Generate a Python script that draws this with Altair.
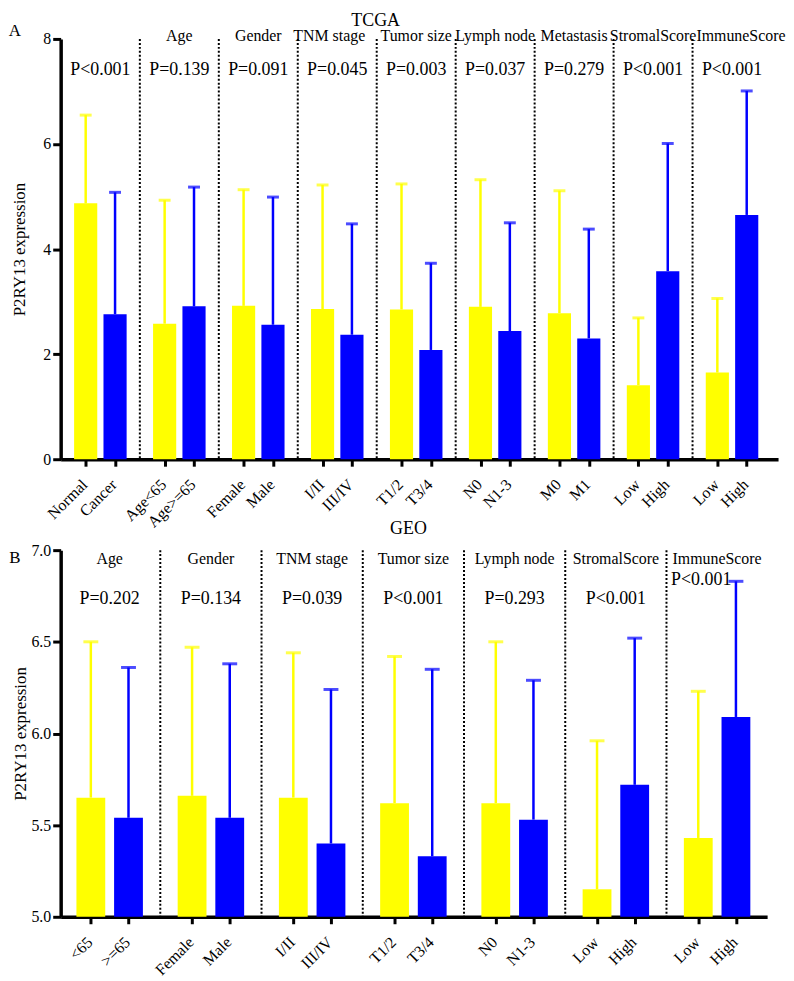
import json
import altair as alt
import pandas as pd

FONT = "Liberation Serif"
YELLOW = "#FFFF00"
BLUE = "#0000FF"
OFF = 0.186  # half distance between the two bars of a pair (in group units)

# ---------------- TCGA data ----------------
tcga_groups = ["", "Age", "Gender", "TNM stage", "Tumor size", "Lymph node",
               "Metastasis", "StromalScore", "ImmuneScore"]
tcga_pvalues = ["P<0.001", "P=0.139", "P=0.091", "P=0.045", "P=0.003",
                "P=0.037", "P=0.279", "P<0.001", "P<0.001"]
tcga_labels = ["Normal", "Cancer", "Age<65", "Age>=65", "Female", "Male",
               "I/II", "III/IV", "T1/2", "T3/4", "N0", "N1-3", "M0", "M1",
               "Low", "High", "Low", "High"]
tcga_mean = [4.87, 2.76, 2.58, 2.91, 2.92, 2.56, 2.86, 2.37, 2.85, 2.08,
             2.90, 2.44, 2.78, 2.30, 1.41, 3.58, 1.65, 4.65]
tcga_upper = [6.55, 5.08, 4.93, 5.18, 5.13, 4.99, 5.22, 4.48, 5.24, 3.73,
              5.32, 4.50, 5.11, 4.38, 2.69, 6.01, 3.06, 7.01]

# ---------------- GEO data ----------------
geo_groups = ["Age", "Gender", "TNM stage", "Tumor size", "Lymph node",
              "StromalScore", "ImmuneScore"]
geo_pvalues = ["P=0.202", "P=0.134", "P=0.039", "P<0.001", "P=0.293",
               "P<0.001", "P<0.001"]
geo_labels = ["<65", ">=65", "Female", "Male", "I/II", "III/IV", "T1/2",
              "T3/4", "N0", "N1-3", "Low", "High", "Low", "High"]
geo_mean = [5.65, 5.54, 5.66, 5.54, 5.65, 5.40, 5.62, 5.33, 5.62, 5.53,
            5.15, 5.72, 5.43, 6.09]
geo_upper = [6.50, 6.36, 6.47, 6.38, 6.44, 6.24, 6.42, 6.35, 6.50, 6.29,
             5.96, 6.52, 6.23, 6.83]


def panel(labels, mean, upper, groups, pvals, ydomain, yticks, yfmt,
          width, height, xdomain, barw, capw, title, letter, title_x, title_y,
          letter_y, grp_y, p_y, ytitle_pad, grp_shift=None, special_p=None):
    n = len(groups)
    grp_shift = grp_shift or {}
    bars = pd.DataFrame({
        "k": list(range(len(labels))),
        "label": labels,
        "mean": mean,
        "upper": upper,
    })
    bars["gi"] = bars["k"] // 2
    bars["side"] = ["first" if k % 2 == 0 else "second" for k in bars["k"]]

    tick_vals = []
    for i in range(n):
        tick_vals += [i - OFF, i + OFF]
    label_expr = ("%s[2*round(datum.value) + (datum.value > round(datum.value) ? 1 : 0)]"
                  % json.dumps(labels))

    X = alt.X("xpos:Q",
              scale=alt.Scale(domain=xdomain, nice=False, zero=False),
              axis=alt.Axis(values=tick_vals, labelExpr=label_expr, title=None,
                            grid=False, labelAngle=-45, labelAlign="right",
                            labelBaseline="top", labelPadding=10, labelOffset=-7,
                            labelOverlap=False, labelFontSize=16, tickSize=7))
    Y = alt.Y("mean:Q",
              scale=alt.Scale(domain=ydomain, nice=False, zero=False),
              axis=alt.Axis(values=yticks, format=yfmt, title="P2RY13 expression",
                            grid=False, titlePadding=ytitle_pad, tickSize=8,
                            labelPadding=2, labelFontSize=16))
    color = alt.Color("side:N",
                      scale=alt.Scale(domain=["first", "second"], range=[YELLOW, BLUE]),
                      legend=None)

    base = alt.Chart(bars).transform_calculate(
        xpos="datum.gi + (datum.side == 'first' ? -%f : %f)" % (OFF, OFF))

    bar_layer = base.mark_bar(width=barw).encode(
        x=X, y=Y, y2=alt.datum(ydomain[0]), color=color)
    err_layer = base.mark_rule(strokeWidth=2.5).encode(
        x=X, y=Y, y2="upper:Q", color=color)
    cap_layer = base.mark_tick(orient="horizontal", size=capw, thickness=3).encode(
        x=X, y=alt.Y("upper:Q", scale=alt.Scale(domain=ydomain, nice=False, zero=False)),
        color=color)

    seps = pd.DataFrame({"b": [i + 0.5 for i in range(n - 1)]})
    sep_layer = alt.Chart(seps).transform_calculate(xpos="datum.b").mark_rule(
        color="black", strokeWidth=2, strokeDash=[2, 2]).encode(
        x=X, y=alt.value(0), y2=alt.value(height))

    gdf = pd.DataFrame({"gi": list(range(n)), "group": groups, "p": pvals})
    gbase = alt.Chart(gdf).transform_calculate(xpos="datum.gi")

    shifted = list(grp_shift.keys())
    grp_layers = []
    if shifted:
        cond = " && ".join("datum.gi != %d" % g for g in shifted)
        grp_layers.append(gbase.transform_filter(cond).mark_text(
            font=FONT, fontSize=16, color="black", baseline="middle").encode(
            x=X, y=alt.value(grp_y), text="group:N"))
        for g, dx in grp_shift.items():
            grp_layers.append(gbase.transform_filter("datum.gi == %d" % g).mark_text(
                font=FONT, fontSize=16, color="black", baseline="middle", dx=dx).encode(
                x=X, y=alt.value(grp_y), text="group:N"))
    else:
        grp_layers.append(gbase.mark_text(
            font=FONT, fontSize=16, color="black", baseline="middle").encode(
            x=X, y=alt.value(grp_y), text="group:N"))

    if special_p is not None:
        pmain = gbase.transform_filter("datum.gi != %d" % special_p[0])
        p_layer = pmain.mark_text(font=FONT, fontSize=18, color="black",
                                  baseline="middle").encode(
            x=X, y=alt.value(p_y), text="p:N")
        psp = gbase.transform_filter("datum.gi == %d" % special_p[0]).mark_text(
            font=FONT, fontSize=18, color="black", baseline="middle",
            dx=special_p[1]).encode(x=X, y=alt.value(special_p[2]), text="p:N")
        p_layers = [p_layer, psp]
    else:
        p_layers = [gbase.mark_text(font=FONT, fontSize=18, color="black",
                                    baseline="middle").encode(
            x=X, y=alt.value(p_y), text="p:N")]

    tdf = pd.DataFrame({"t": [title], "l": [letter]})
    title_layer = alt.Chart(tdf).mark_text(font=FONT, fontSize=18, color="black",
                                           baseline="middle").encode(
        x=alt.value(title_x), y=alt.value(title_y), text="t:N")
    letter_layer = alt.Chart(tdf).mark_text(font=FONT, fontSize=17, color="black",
                                            baseline="middle").encode(
        x=alt.value(-46), y=alt.value(letter_y), text="l:N")

    return alt.layer(sep_layer, bar_layer, err_layer, cap_layer, *grp_layers,
                     *p_layers, title_layer, letter_layer).properties(
        width=width, height=height)


pA = panel(tcga_labels, tcga_mean, tcga_upper, tcga_groups, tcga_pvalues,
           [0, 8], [0, 2, 4, 6, 8], "d", 722, 423, [-0.44, 8.52], 23.3, 12,
           "TCGA", "A", 317, -18.5, -8, -3, 31.5, 14,
           grp_shift={3: -8, 8: 9})
pB = panel(geo_labels, geo_mean, geo_upper, geo_groups, geo_pvalues,
           [5.0, 7.0], [5.0, 5.5, 6.0, 6.5, 7.0], ".1f", 711, 369,
           [-0.435, 6.445], 29, 15, "GEO", "B", 350, -21, 8, 9, 49, 1,
           special_p=(6, -16, 30))

chart = alt.vconcat(pA, pB, spacing=91.5, bounds="flush").configure(
    padding={"left": 0, "top": 0, "right": 0, "bottom": 0},
    font=FONT,
).configure_view(stroke=None).configure_axis(
    domainColor="black", domainWidth=3.5, tickColor="black", tickWidth=3,
    labelFont=FONT, labelColor="black", titleFont=FONT, titleColor="black",
    titleFontSize=17, titleFontWeight="normal",
)

chart.save("out.html", embed_options={"renderer": "svg", "actions": False})
